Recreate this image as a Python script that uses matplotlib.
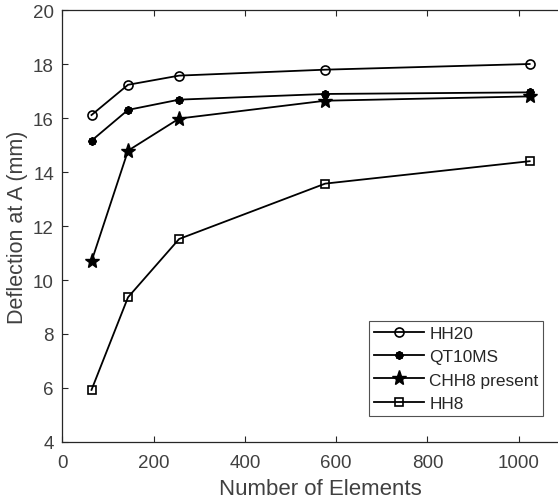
import matplotlib
matplotlib.use("Agg")
import matplotlib.pyplot as plt

elements = [64, 144, 256, 576, 1024]
hh20 = [16.11, 17.23, 17.57, 17.79, 18.00]
qt10ms = [15.16, 16.30, 16.68, 16.89, 16.95]
chh8 = [10.69, 14.79, 15.98, 16.64, 16.80]
hh8 = [5.93, 9.36, 11.52, 13.57, 14.40]
labels = ["HH20", "QT10MS", "CHH8 present", "HH8"]
xticks = [0, 200, 400, 600, 800, 1000]
yticks = [4, 6, 8, 10, 12, 14, 16, 18, 20]

plt.rcParams['font.family'] = ['Liberation Sans', 'DejaVu Sans']
txt = '#404040'

fig = plt.figure(figsize=(5.58, 5.02), dpi=100)
W, H = 558, 502
left, right, top, bottom = 62.3, 62.3 + 0.4564 * 1200, 11, 443
ax = fig.add_axes([left / W, 1 - bottom / H, (right - left) / W, (bottom - top) / H])

lw = 1.3
ax.plot(elements, hh20, '-o', color='black', lw=lw, ms=6.5, mfc='none', mew=1.2, label=labels[0])
ax.plot(elements, qt10ms, '-', marker=(8, 2, 0), color='black', lw=lw, ms=6.0, mew=1.5, label=labels[1])
ax.plot(elements, chh8, '-*', color='black', lw=lw, ms=11, mew=1.0, label=labels[2])
ax.plot(elements, hh8, '-s', color='black', lw=lw, ms=5.5, mfc='none', mew=1.2, label=labels[3])

ax.set_xlim(0, 1200)
ax.set_ylim(4, 20)
ax.set_xticks(xticks)
ax.set_yticks(yticks)
ax.tick_params(direction='in', length=4, width=0.8, colors='#262626', labelcolor=txt,
               labelsize=13.5, top=True, right=True)
ax.tick_params(axis='x', pad=9)
ax.tick_params(axis='y', pad=6)
for s in ax.spines.values():
    s.set_color('#262626')
    s.set_linewidth(0.9)

ax.set_xlabel("Number of Elements", fontsize=16, color=txt, labelpad=4)
ax.set_ylabel("Deflection at A (mm)", fontsize=15.5, color=txt)
ax.xaxis.set_label_coords((320 - left) / (right - left), -(495 - bottom) / (bottom - top), transform=ax.transAxes)
ax.xaxis.label.set_va('baseline')
ax.yaxis.set_label_coords(-(left - 17.5) / (right - left), 0.5, transform=ax.transAxes)
ax.yaxis.label.set_va('center')

leg = ax.legend(loc='upper left', bbox_to_anchor=((369 - left) / (right - left), (bottom - 419) / (bottom - top),
                                                  (543 - 369) / (right - left), (419 - 322) / (bottom - top)),
                mode='expand', fontsize=12.4, frameon=True, fancybox=False, edgecolor='#262626',
                handlelength=2.9, handletextpad=0.3, borderpad=0.3, labelspacing=0.47,
                borderaxespad=0)
leg.get_frame().set_linewidth(0.8)
for t in leg.get_texts():
    t.set_color('#262626')

fig.savefig("out.png", dpi=100)
